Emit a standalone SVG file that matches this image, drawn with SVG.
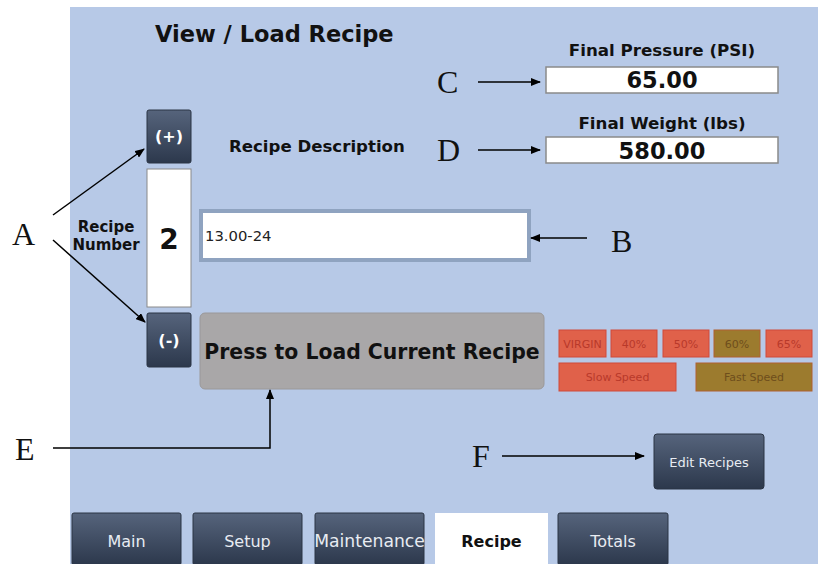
<svg xmlns="http://www.w3.org/2000/svg" width="822" height="564" viewBox="0 0 822 564">
<defs>
<linearGradient id="dark" x1="0" y1="0" x2="0" y2="1">
<stop offset="0" stop-color="#56647c"/>
<stop offset="1" stop-color="#2c384c"/>
</linearGradient>
<marker id="ah" markerWidth="10" markerHeight="8" refX="9" refY="4" orient="auto" markerUnits="userSpaceOnUse">
<path d="M0,0 L10,4 L0,8 Z" fill="#000"/>
</marker>
</defs>
<style>
.ui{font-family:"DejaVu Sans",sans-serif;}
.b{font-weight:bold;}
.let{font-family:"Liberation Serif",serif;font-size:32px;fill:#111;}
.ln{stroke:#000;stroke-width:1.5;fill:none;}
.dk{fill:url(#dark);stroke:#2a3444;stroke-width:1;}
.or{fill:#e0614a;stroke:#d04a3a;stroke-width:1;}
.ol{fill:#9c7b2e;stroke:#b06030;stroke-width:1;}
.ot{font-size:11px;fill:#b8392a;text-anchor:middle;}
.olt{font-size:11px;fill:#6e4e1c;text-anchor:middle;}
.tab{font-size:16px;fill:#e8ecf2;text-anchor:middle;}
</style>
<rect width="822" height="564" fill="#fff"/>
<g id="panel">
<rect x="70" y="7" width="748" height="557" fill="#b7c9e7"/>
</g>
<g id="title"><text class="ui b" x="155" y="42" font-size="22.5" fill="#111">View / Load Recipe</text></g>
<g id="pressure">
<text class="ui b" x="662" y="56" font-size="16.7" fill="#111" text-anchor="middle">Final Pressure (PSI)</text>
<rect x="546" y="67" width="232" height="26" fill="#fff" stroke="#8a8a8a" stroke-width="1.5"/>
<text class="ui b" x="662" y="88" font-size="22.5" fill="#111" text-anchor="middle">65.00</text>
</g>
<g id="weight">
<text class="ui b" x="662" y="129" font-size="16.7" fill="#111" text-anchor="middle">Final Weight (lbs)</text>
<rect x="546" y="137" width="232" height="26" fill="#fff" stroke="#8a8a8a" stroke-width="1.5"/>
<text class="ui b" x="662" y="159" font-size="22.5" fill="#111" text-anchor="middle">580.00</text>
</g>
<g id="plus">
<rect class="dk" x="147" y="110" width="44" height="53" rx="2"/>
<text class="ui b" x="169" y="142" font-size="16" fill="#fff" text-anchor="middle">(+)</text>
</g>
<g id="number">
<rect x="147" y="169" width="44" height="138" fill="#fff" stroke="#8a8a8a" stroke-width="1"/>
<text class="ui b" x="169" y="249" font-size="28" fill="#111" text-anchor="middle">2</text>
</g>
<g id="minus">
<rect class="dk" x="147" y="313" width="44" height="54" rx="2"/>
<text class="ui b" x="169" y="346" font-size="16" fill="#fff" text-anchor="middle">(-)</text>
</g>
<g id="recipe-number-label">
<text class="ui b" x="106" y="232" font-size="15" fill="#111" text-anchor="middle">Recipe</text>
<text class="ui b" x="106" y="250" font-size="15" fill="#111" text-anchor="middle">Number</text>
</g>
<g id="desc-label"><text class="ui b" x="229" y="152" font-size="16.6" fill="#111">Recipe Description</text></g>
<g id="desc-field">
<rect x="201" y="211" width="328" height="49" fill="#fff" stroke="#8fa3c0" stroke-width="4"/>
<text class="ui" x="205" y="241" font-size="14.8" fill="#222">13.00-24</text>
</g>
<g id="load">
<rect x="200" y="313" width="344" height="76" rx="5" fill="#a9a7a8" stroke="#9a9899"/>
<text class="ui b" x="372" y="359" font-size="20.4" fill="#111" text-anchor="middle">Press to Load Current Recipe</text>
</g>
<g id="modes">
<rect class="or" x="559" y="330" width="47" height="27"/><text class="ui ot" x="582.5" y="348">VIRGIN</text>
<rect class="or" x="611" y="330" width="46" height="27"/><text class="ui ot" x="634" y="348">40%</text>
<rect class="or" x="663" y="330" width="46" height="27"/><text class="ui ot" x="686" y="348">50%</text>
<rect class="ol" x="714" y="330" width="46" height="27"/><text class="ui olt" x="737" y="348">60%</text>
<rect class="or" x="766" y="330" width="46" height="27"/><text class="ui ot" x="789" y="348">65%</text>
<rect class="or" x="559" y="363" width="117" height="28"/><text class="ui ot" x="617.5" y="381">Slow Speed</text>
<rect class="ol" x="696" y="363" width="116" height="28"/><text class="ui olt" x="754" y="381">Fast Speed</text>
</g>
<g id="edit">
<rect class="dk" x="654" y="434" width="110" height="55" rx="3"/>
<text class="ui" x="709" y="467" font-size="13" fill="#e8ecf2" text-anchor="middle">Edit Recipes</text>
</g>
<g id="tabs">
<rect class="dk" x="72" y="513" width="109" height="52" rx="2"/><text class="ui tab" x="126.5" y="547">Main</text>
<rect class="dk" x="193" y="513" width="109" height="52" rx="2"/><text class="ui tab" x="247.5" y="547">Setup</text>
<rect class="dk" x="315" y="513" width="109" height="52" rx="2"/><text class="ui tab" x="369.5" y="547" style="font-size:17.2px">Maintenance</text>
<rect x="435" y="513" width="113" height="52" fill="#fff"/><text class="ui b" x="491.5" y="547" font-size="16" fill="#111" text-anchor="middle">Recipe</text>
<rect class="dk" x="558" y="513" width="110" height="52" rx="2"/><text class="ui tab" x="613" y="547">Totals</text>
</g>
<g id="letters">
<text class="let" x="12" y="245">A</text>
<text class="let" x="611" y="252">B</text>
<text class="let" x="437" y="93">C</text>
<text class="let" x="437" y="161">D</text>
<text class="let" x="15" y="460">E</text>
<text class="let" x="472" y="467">F</text>
</g>
<g id="connectors">
<line class="ln" x1="53" y1="215" x2="144" y2="149" marker-end="url(#ah)"/>
<line class="ln" x1="53" y1="240" x2="145" y2="322" marker-end="url(#ah)"/>
<line class="ln" x1="587" y1="238" x2="531" y2="238" marker-end="url(#ah)"/>
<line class="ln" x1="478" y1="82" x2="540" y2="82" marker-end="url(#ah)"/>
<line class="ln" x1="478" y1="150" x2="540" y2="150" marker-end="url(#ah)"/>
<polyline class="ln" points="53,448 270,448 270,390" marker-end="url(#ah)"/>
<line class="ln" x1="502" y1="456" x2="644" y2="456" marker-end="url(#ah)"/>
</g>
</svg>
